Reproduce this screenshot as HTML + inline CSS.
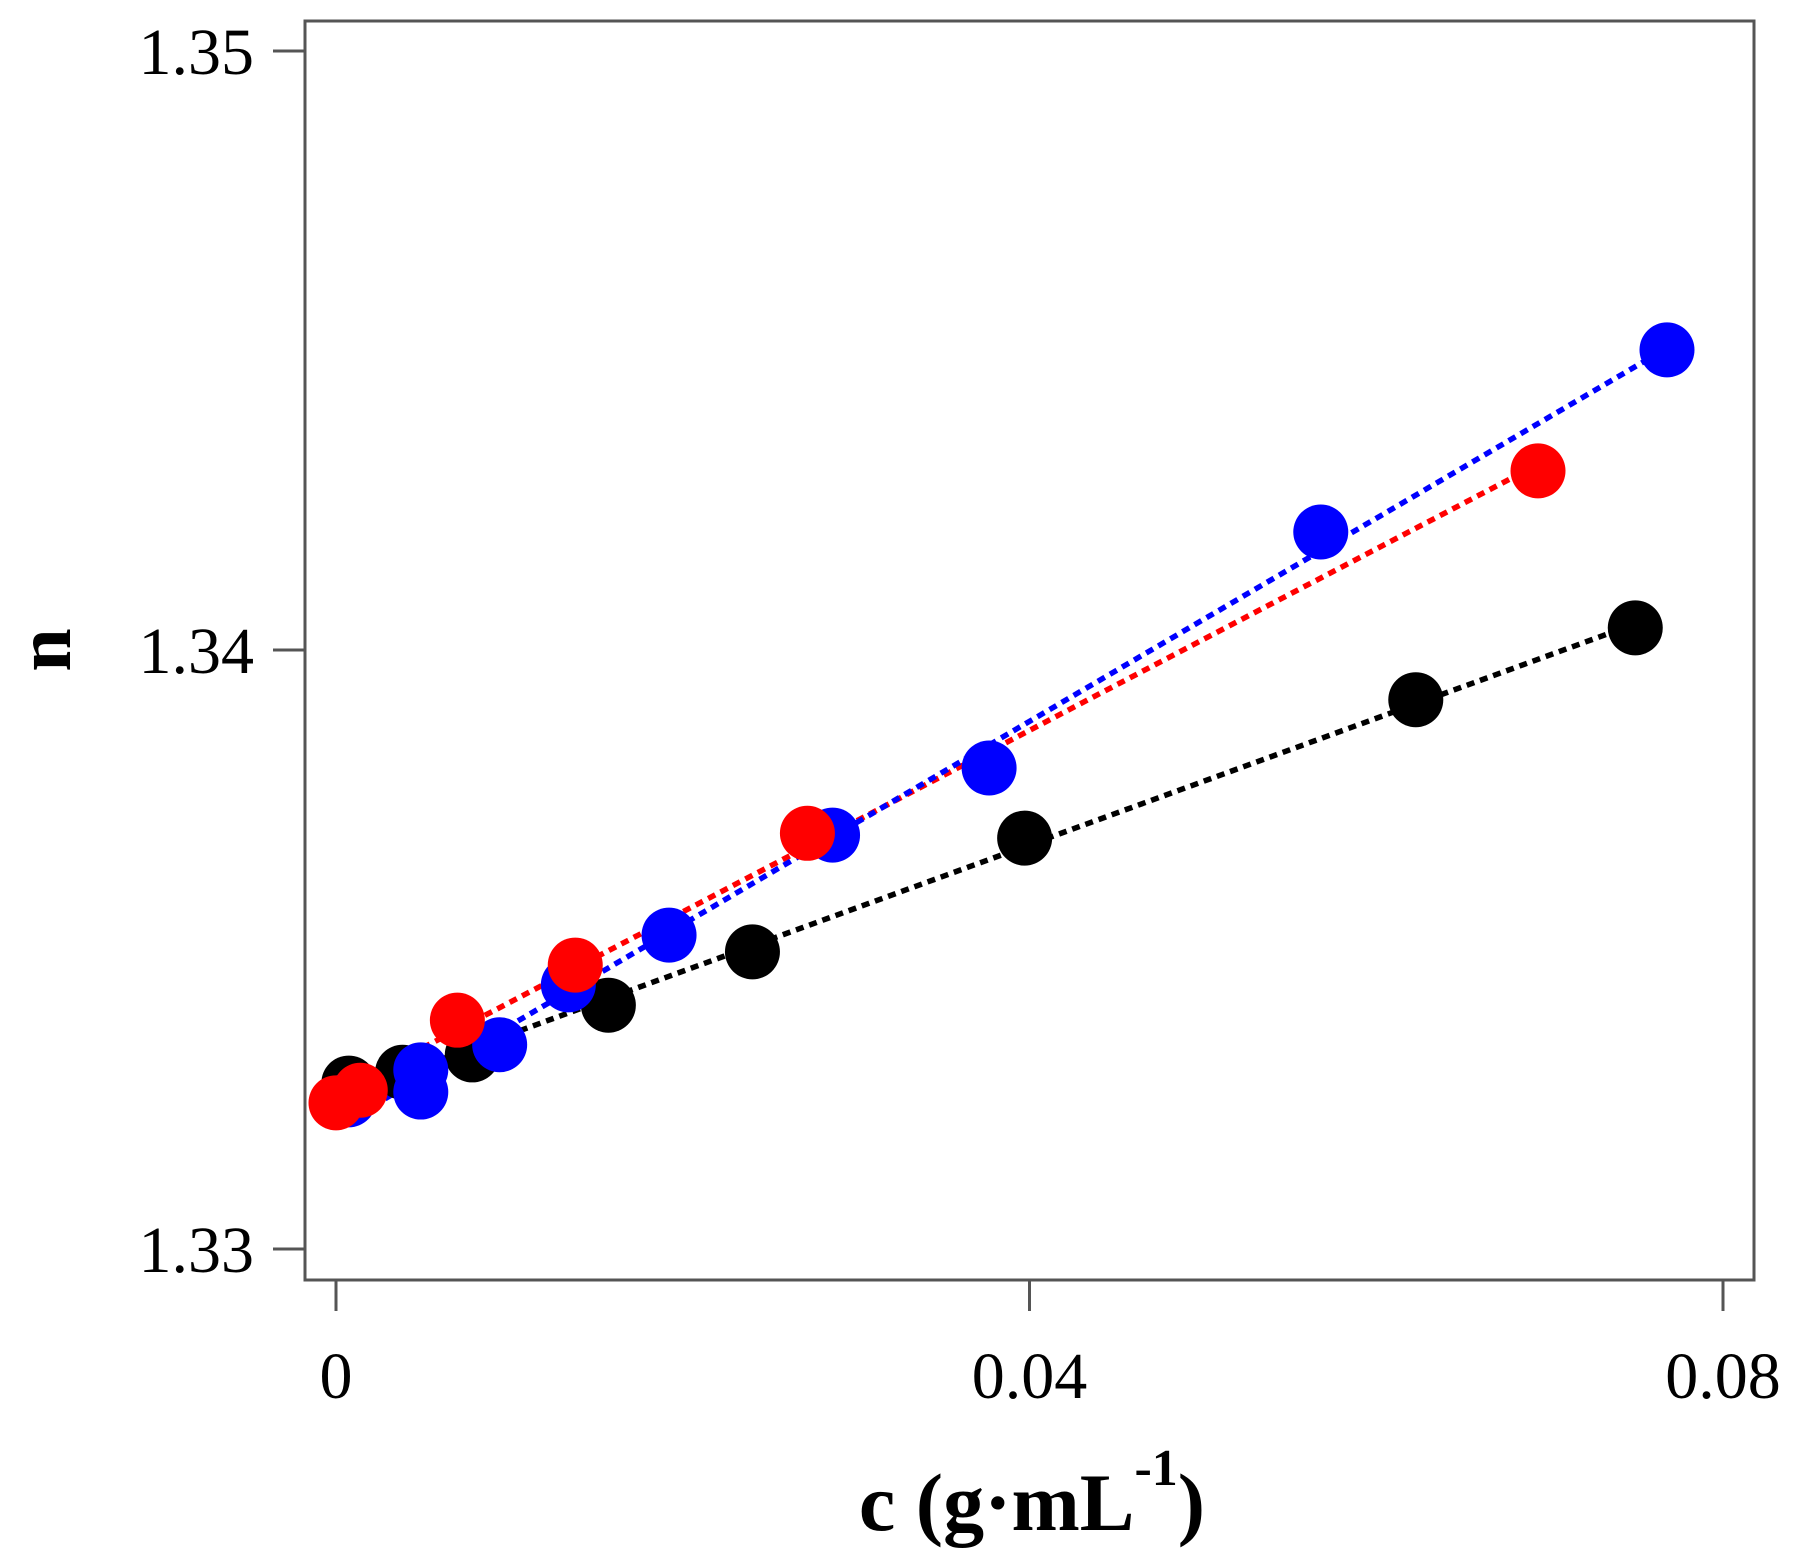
<!DOCTYPE html>
<html><head><meta charset="utf-8"><style>
html,body{margin:0;padding:0;background:#fff}
svg{display:block}
text{font-family:"Liberation Serif",serif;fill:#000}
</style></head><body>
<svg id="chart" width="1793" height="1561" viewBox="0 0 1793 1561" xmlns="http://www.w3.org/2000/svg">
<rect x="305" y="21" width="1449" height="1259" fill="none" stroke="#555" stroke-width="3"/>
<g id="axes"></g>
<g id="lines"></g>
<g id="points"></g>
<text transform="translate(70,650) rotate(-90)" text-anchor="middle" font-size="78" font-weight="bold">n</text>
<text x="1032" y="1530" text-anchor="middle" font-size="82" font-weight="bold">c (g·mL<tspan dy="-45" font-size="52">-1</tspan><tspan dy="45">)</tspan></text>
</svg>
<script>
const xTicks = [0, 0.04, 0.08];
const xTickLabels = ["0", "0.04", "0.08"];
const yTicks = [1.33, 1.34, 1.35];
const yTickLabels = ["1.33", "1.34", "1.35"];

const blackX = [0.00074, 0.00384, 0.00786, 0.01571, 0.02402, 0.03972, 0.06228, 0.07494];
const blackY = [1.33277, 1.33295, 1.33324, 1.33407, 1.33496, 1.33686, 1.33917, 1.34037];
const blueX = [0.00074, 0.00489, 0.00489, 0.00944, 0.0134, 0.01921, 0.02864, 0.03767, 0.0568, 0.07677];
const blueY = [1.33249, 1.33299, 1.33262, 1.33341, 1.33441, 1.33524, 1.33691, 1.33803, 1.34197, 1.34501];
const redX = [0.0, 0.0014, 0.007, 0.0138, 0.02719, 0.06933];
const redY = [1.33244, 1.33265, 1.33382, 1.33474, 1.33694, 1.34299];

const NS = "http://www.w3.org/2000/svg";
function sx(v){ return 336 + (v - 0) * (1723 - 336) / 0.08; }
function sy(v){ return 1249 - (v - 1.33) * (1249 - 51) / 0.02; }
function mk(tag, attrs, parent){
  const e = document.createElementNS(NS, tag);
  for (const k in attrs) e.setAttribute(k, attrs[k]);
  parent.appendChild(e); return e;
}
const axes = document.getElementById('axes');
xTicks.forEach((t, i) => {
  const l = mk('line', {x1: sx(t), x2: sx(t), y1: 1280, y2: 1311, stroke: '#555', 'stroke-width': 3}, axes);
  
  
  const tx = mk('text', {x: sx(t), y: 1398, 'text-anchor': 'middle', 'font-size': 66}, axes);
  tx.textContent = xTickLabels[i];
  
  
});
yTicks.forEach((t, i) => {
  const l = mk('line', {x1: 273, x2: 305, y1: sy(t), y2: sy(t), stroke: '#555', 'stroke-width': 3}, axes);
  
  
  const tx = mk('text', {x: 254, y: sy(t) + 23, 'text-anchor': 'end', 'font-size': 66}, axes);
  tx.textContent = yTickLabels[i];
  
  
});
function fit(xs, ys){
  const n = xs.length; let mx = 0, my = 0;
  xs.forEach((x, i) => { mx += x; my += ys[i]; }); mx /= n; my /= n;
  let sxy = 0, sxx = 0;
  xs.forEach((x, i) => { sxy += (x - mx) * (ys[i] - my); sxx += (x - mx) * (x - mx); });
  const b = sxy / sxx; return [my - b * mx, b];
}
const series = [
  {name: 'black', color: '#000', xs: blackX, ys: blackY},
  {name: 'red', color: '#f00', xs: redX, ys: redY},
  {name: 'blue', color: '#00f', xs: blueX, ys: blueY}
];
const lines = document.getElementById('lines');
const pts = document.getElementById('points');
series.forEach(s => {
  const [a, b] = fit(s.xs, s.ys);
  const x0 = Math.min(...s.xs), x1 = Math.max(...s.xs);
  const l = mk('line', {x1: sx(x0), y1: sy(a + b * x0), x2: sx(x1), y2: sy(a + b * x1), stroke: s.color, 'stroke-width': 5.5, 'stroke-dasharray': '8 6'}, lines);
  
  
});
[series[0], series[2], series[1]].forEach(s => {
  s.xs.forEach((x, i) => {
    const c = mk('circle', {cx: sx(x), cy: sy(s.ys[i]), r: 27.5, fill: s.color}, pts);
    
    
  });
});
</script>
</body></html>
